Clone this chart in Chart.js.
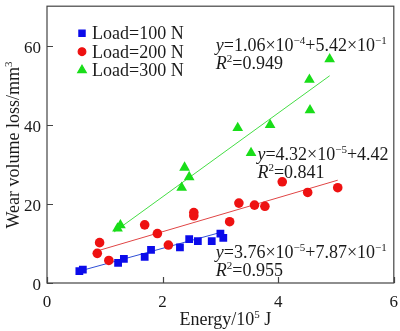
<!DOCTYPE html>
<html>
<head>
<meta charset="utf-8">
<script src="https://cdn.jsdelivr.net/npm/chart.js@4.4.0/dist/chart.umd.min.js"></script>
<style>
  body { margin: 0; background: #fff; }
  canvas { display: block; }
</style>
</head>
<body>
<canvas id="c" width="400" height="331" style="width:400px;height:331px"></canvas>
<script>
// values (energy in 10^5 J, wear volume in mm^3)
const seriesLabels = ['Load=100 N', 'Load=200 N', 'Load=300 N'];

const load100X = [0.56, 0.62, 1.23, 1.33, 1.69, 1.80, 2.30, 2.46, 2.61, 2.85, 3.00, 3.05];
const load100Y = [3.0, 3.4, 5.1, 6.1, 6.6, 8.4, 9.0, 11.1, 10.6, 10.6, 12.5, 11.4];

const load200X = [0.87, 0.91, 1.07, 1.69, 1.91, 2.10, 2.54, 2.54, 3.16, 3.32, 3.59, 3.77, 4.07, 4.51, 5.03];
const load200Y = [7.5, 10.2, 5.7, 14.7, 12.5, 9.6, 17.0, 17.8, 15.5, 20.2, 19.7, 19.4, 25.6, 22.9, 24.1];

const load300X = [1.22, 1.27, 2.33, 2.38, 2.46, 3.30, 3.53, 3.86, 4.54, 4.55, 4.89];
const load300Y = [13.8, 14.6, 24.1, 29.2, 26.8, 39.2, 32.9, 40.0, 51.4, 43.7, 56.6];

// fitted lines, end points
const fit100X = [0.56, 3.03];
const fit100Y = [3.0, 12.9];
const fit200X = [0.89, 5.03];
const fit200Y = [8.2, 26.0];
const fit300X = [1.16, 4.89];
const fit300Y = [12.9, 52.4];

const xTicks = [0, 2, 4, 6];
const yTicks = [0, 20, 40, 60];

// fit equations: [text, style] pieces, 'i' italic, 's' superscript
const eq300 = [[['y', 'i'], ['=1.06×10', ''], ['−4', 's'], ['+5.42×10', ''], ['−1', 's']], [['R', 'i'], ['2', 's'], ['=0.949', '']]];
const eq200 = [[['y', 'i'], ['=4.32×10', ''], ['−5', 's'], ['+4.42', '']], [['R', 'i'], ['2', 's'], ['=0.841', '']]];
const eq100 = [[['y', 'i'], ['=3.76×10', ''], ['−5', 's'], ['+7.87×10', ''], ['−1', 's']], [['R', 'i'], ['2', 's'], ['=0.955', '']]];

const FONT = "'Liberation Serif', 'Times New Roman', serif";
const colors = ['#0b0bea', '#ee1111', '#19dd19'];
const lineColors = ['#2f4fd6', '#e04545', '#45dd45'];
const styles = ['rect', 'circle', 'triangle'];
const radii = [5.5, 4.8, 6.2];

Chart.defaults.font.family = FONT;

function pts(xs, ys) {
  return xs.map((x, i) => ({ x: x, y: ys[i] }));
}

// draws a run of styled pieces starting at (x, y), returns its width
function richText(ctx, parts, x, y, size, measureOnly) {
  let w = 0;
  parts.forEach(([t, s]) => {
    const sz = s === 's' ? Math.round(size * 0.62) : size;
    ctx.font = (s === 'i' ? 'italic ' : '') + sz + 'px ' + FONT;
    if (!measureOnly) ctx.fillText(t, x + w, s === 's' ? y - size * 0.38 : y);
    w += ctx.measureText(t).width;
  });
  return w;
}

const decorations = {
  id: 'decorations',
  afterDraw(chart) {
    const ctx = chart.ctx;
    const a = chart.chartArea;
    const xs = chart.scales.x, ys = chart.scales.y;
    ctx.save();

    // frame and inward ticks
    ctx.strokeStyle = '#444';
    ctx.lineWidth = 1.2;
    ctx.strokeRect(a.left, a.top, a.right - a.left, a.bottom - a.top);
    ctx.beginPath();
    xTicks.forEach(v => {
      const px = Math.round(xs.getPixelForValue(v)) + 0.5;
      ctx.moveTo(px, a.bottom);
      ctx.lineTo(px, a.bottom - 6);
    });
    yTicks.forEach(v => {
      const py = Math.round(ys.getPixelForValue(v)) + 0.5;
      ctx.moveTo(a.left, py);
      ctx.lineTo(a.left + 6, py);
    });
    ctx.stroke();

    ctx.fillStyle = '#1a1a1a';
    ctx.textBaseline = 'alphabetic';
    ctx.textAlign = 'left';

    // legend
    seriesLabels.forEach((lab, i) => {
      const y = a.top + 27 + i * 18.5;
      ctx.fillStyle = colors[i];
      ctx.strokeStyle = colors[i];
      Chart.helpers.drawPoint(ctx, { pointStyle: styles[i], radius: radii[i] * 0.8, rotation: 0, borderWidth: 1 }, 82, y);
      ctx.fillStyle = '#1a1a1a';
      ctx.font = '18px ' + FONT;
      ctx.fillText(lab, 92, y + 6);
    });

    // fit equations
    const eqs = [[eq300, 2.92, 58.6], [eq200, 3.64, 31.2], [eq100, 2.92, 6.4]];
    eqs.forEach(([lines, x, y]) => {
      const px = xs.getPixelForValue(x);
      const py = ys.getPixelForValue(y);
      lines.forEach((ln, k) => richText(ctx, ln, px, py + k * 18, 18));
    });

    // axis titles
    const xt = [['Energy/10', ''], ['5', 's'], [' J', '']];
    const xw = richText(ctx, xt, 0, 0, 18, true);
    richText(ctx, xt, (a.left + a.right) / 2 - xw / 2 + 5, 325, 18);

    const yt = [['Wear volume loss/mm', ''], ['3', 's']];
    const yw = richText(ctx, yt, 0, 0, 18, true);
    ctx.translate(19, 145);
    ctx.rotate(-Math.PI / 2);
    richText(ctx, yt, -yw / 2, 0, 18);
    ctx.restore();
  }
};

const scatterSets = [[load100X, load100Y], [load200X, load200Y], [load300X, load300Y]].map((d, i) => ({
  type: 'scatter',
  label: seriesLabels[i],
  data: pts(d[0], d[1]),
  pointStyle: styles[i],
  pointRadius: radii[i],
  backgroundColor: colors[i],
  borderColor: colors[i],
  borderWidth: 0,
  order: 1
}));

const fitSets = [[fit100X, fit100Y], [fit200X, fit200Y], [fit300X, fit300Y]].map((d, i) => ({
  type: 'line',
  label: 'fit ' + seriesLabels[i],
  data: pts(d[0], d[1]),
  borderColor: lineColors[i],
  borderWidth: 1,
  pointRadius: 0,
  fill: false,
  order: 2
}));

const tickFont = { family: FONT, size: 17 };

new Chart(document.getElementById('c'), {
  type: 'scatter',
  data: { datasets: fitSets.concat(scatterSets) },
  options: {
    responsive: false,
    animation: false,
    devicePixelRatio: 1,
    layout: { padding: { left: 0, right: 2, top: 0, bottom: 0 } },
    plugins: { legend: { display: false }, tooltip: { enabled: false } },
    scales: {
      x: {
        type: 'linear',
        min: 0,
        max: 6,
        afterBuildTicks: s => { s.ticks = xTicks.map(v => ({ value: v })); },
        afterFit: s => { s.height = 48; s.paddingLeft = 0; s.paddingRight = 0; },
        grid: { display: false, drawTicks: false },
        border: { display: false },
        ticks: { font: tickFont, color: '#1a1a1a', padding: 9, maxRotation: 0 }
      },
      y: {
        type: 'linear',
        min: 0,
        max: 70,
        afterBuildTicks: s => { s.ticks = yTicks.map(v => ({ value: v })); },
        afterFit: s => { s.width = 47; s.paddingTop = 0; s.paddingBottom = 0; },
        grid: { display: false, drawTicks: false },
        border: { display: false },
        ticks: { font: tickFont, color: '#1a1a1a', padding: 6, labelOffset: 3 }
      }
    }
  },
  plugins: [decorations]
});
</script>
</body>
</html>
